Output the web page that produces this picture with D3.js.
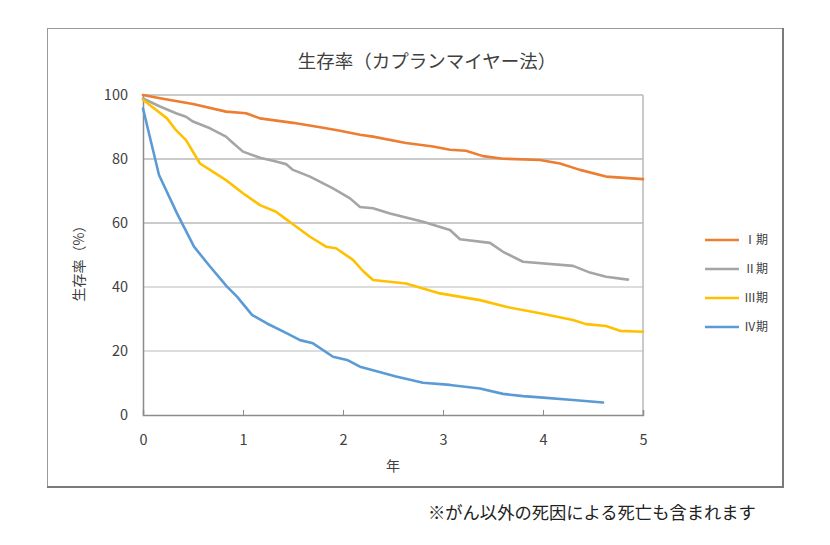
<!DOCTYPE html>
<html>
<head>
<meta charset="utf-8">
<script src="https://cdn.jsdelivr.net/npm/d3@7"></script>
<style>
  body { margin: 0; background: #fff; }
  text { font-family: "Noto Sans CJK JP", "Noto Sans", sans-serif; fill: #404040; }
</style>
</head>
<body>
<div id="chart"></div>
<script>
'use strict';

// stages
var stages = ["Ⅰ期", "Ⅱ期", "Ⅲ期", "Ⅳ期"];
var colors = ["#ED7D31", "#A5A5A5", "#FFC000", "#5B9BD5"];

// years / survival (%)
var stage1Years = [0, 0.17, 0.5, 0.83, 1.03, 1.17, 1.5, 1.83, 1.97, 2.17, 2.3, 2.63, 2.9, 3.07, 3.23, 3.4, 3.6, 3.97, 4.17, 4.37, 4.63, 5.0];
var stage1Surv  = [100, 99, 97.2, 94.8, 94.3, 92.7, 91.3, 89.6, 88.8, 87.6, 87.0, 85.0, 83.9, 82.9, 82.6, 80.9, 80.1, 79.7, 78.6, 76.6, 74.5, 73.7];

var stage2Years = [0, 0.17, 0.33, 0.43, 0.5, 0.67, 0.83, 0.9, 1.0, 1.17, 1.33, 1.43, 1.5, 1.67, 1.9, 2.07, 2.17, 2.3, 2.47, 2.8, 3.07, 3.17, 3.47, 3.6, 3.8, 4.3, 4.47, 4.63, 4.85];
var stage2Surv  = [98.9, 96.4, 94.3, 93.2, 91.7, 89.6, 87.0, 85.0, 82.3, 80.4, 79.2, 78.4, 76.6, 74.5, 70.8, 67.7, 65.0, 64.6, 63.0, 60.4, 57.8, 54.9, 53.8, 51.0, 47.9, 46.6, 44.5, 43.2, 42.3];

var stage3Years = [0, 0.24, 0.33, 0.43, 0.57, 0.67, 0.83, 1.0, 1.17, 1.33, 1.43, 1.5, 1.67, 1.83, 1.93, 2.1, 2.2, 2.3, 2.63, 2.97, 3.37, 3.63, 3.97, 4.3, 4.43, 4.63, 4.77, 5.0];
var stage3Surv  = [98.5, 92.7, 89.0, 85.9, 78.6, 76.6, 73.4, 69.3, 65.6, 63.5, 61.2, 59.6, 55.7, 52.6, 52.1, 48.5, 45.0, 42.2, 41.1, 38.0, 35.9, 33.8, 31.8, 29.7, 28.4, 27.8, 26.3, 26.0];

var stage4Years = [0, 0.16, 0.34, 0.51, 0.67, 0.84, 0.94, 1.09, 1.24, 1.44, 1.57, 1.7, 1.9, 2.04, 2.17, 2.3, 2.53, 2.8, 3.07, 3.37, 3.6, 3.8, 3.97, 4.3, 4.6];
var stage4Surv  = [95.8, 75.0, 63.0, 52.6, 46.4, 40.1, 37.0, 31.3, 28.6, 25.5, 23.4, 22.4, 18.2, 17.2, 15.1, 14.0, 12.0, 10.1, 9.4, 8.3, 6.6, 5.9, 5.5, 4.7, 3.9];

var xTicks = [0, 1, 2, 3, 4, 5];
var yTicks = [0, 20, 40, 60, 80, 100];

var series = [
  { name: stages[0], years: stage1Years, surv: stage1Surv },
  { name: stages[1], years: stage2Years, surv: stage2Surv },
  { name: stages[2], years: stage3Years, surv: stage3Surv },
  { name: stages[3], years: stage4Years, surv: stage4Surv }
];

var W = 830, H = 545;
var plot = { left: 143, right: 643, top: 95, bottom: 415 };

var svg = d3.select("#chart").append("svg")
  .attr("width", W)
  .attr("height", H);

// chart frame
svg.append("rect")
  .attr("x", 47.5).attr("y", 28.5)
  .attr("width", 735).attr("height", 458)
  .attr("fill", "#fff")
  .attr("stroke", "#9a9a9a")
  .attr("stroke-width", 1);
// darker shadow on right/bottom edges
svg.append("path")
  .attr("d", "M783,28 L783,487 L47,487")
  .attr("fill", "none")
  .attr("stroke", "#7a7a7a")
  .attr("stroke-width", 2);

var x = d3.scaleLinear().domain([0, 5]).range([plot.left, plot.right]);
var y = d3.scaleLinear().domain([0, 100]).range([plot.bottom, plot.top]);

// grid
svg.append("g")
  .selectAll("line")
  .data(yTicks.filter(function (d) { return d > 0; }))
  .enter().append("line")
  .attr("x1", plot.left).attr("x2", plot.right)
  .attr("y1", function (d) { return y(d); })
  .attr("y2", function (d) { return y(d); })
  .attr("stroke", function (d) { return d >= 60 ? "#b8b8b8" : "#d0d0d0"; })
  .attr("stroke-width", 1.3);

// right border of plot
svg.append("line")
  .attr("x1", plot.right).attr("x2", plot.right)
  .attr("y1", plot.top).attr("y2", plot.bottom)
  .attr("stroke", "#b8b8b8").attr("stroke-width", 1.5);

// y axis
var yAxis = d3.axisLeft(y).tickValues(yTicks).tickSize(0).tickPadding(15);
var gy = svg.append("g")
  .attr("transform", "translate(" + plot.left + ",0)")
  .call(yAxis);
gy.select(".domain").attr("stroke", "#8c8c8c").attr("stroke-width", 1.5);
gy.selectAll("text").style("font-size", "14.5px").attr("fill", "#404040");

// x axis
var xAxis = d3.axisBottom(x).tickValues(xTicks).tickSize(-5).tickPadding(20).tickFormat(d3.format("d"));
var gx = svg.append("g")
  .attr("transform", "translate(0," + plot.bottom + ")")
  .call(xAxis);
gx.select(".domain").attr("stroke", "#8c8c8c").attr("stroke-width", 1.5);
gx.selectAll(".tick line").attr("stroke", "#8c8c8c");
gx.selectAll("text").style("font-size", "14.5px").attr("fill", "#404040");

// lines
var line = d3.line()
  .x(function (d) { return x(d[0]); })
  .y(function (d) { return y(d[1]); });

svg.append("g")
  .selectAll("path")
  .data(series)
  .enter().append("path")
  .attr("d", function (s) { return line(d3.zip(s.years, s.surv)); })
  .attr("fill", "none")
  .attr("stroke", function (s, i) { return colors[i]; })
  .attr("stroke-width", 2.6)
  .attr("stroke-linejoin", "round")
  .attr("stroke-linecap", "round");

// title
svg.append("text")
  .attr("x", 427).attr("y", 68)
  .attr("text-anchor", "middle")
  .style("font-size", "18.5px")
  .text("生存率（カプランマイヤー法）");

// axis titles
svg.append("text")
  .attr("transform", "translate(84,260) rotate(-90)")
  .attr("text-anchor", "middle")
  .style("font-size", "14px")
  .text("生存率（%）");

svg.append("text")
  .attr("x", 393).attr("y", 471)
  .attr("text-anchor", "middle")
  .style("font-size", "14px")
  .text("年");

// legend
var legend = svg.append("g")
  .selectAll("g")
  .data(stages)
  .enter().append("g")
  .attr("transform", function (d, i) { return "translate(705," + (240 + i * 29) + ")"; });
legend.append("line")
  .attr("x1", 0).attr("x2", 34)
  .attr("stroke", function (d, i) { return colors[i]; })
  .attr("stroke-width", 2.6);
legend.append("text")
  .attr("x", 39).attr("y", 4)
  .style("font-size", "12px")
  .text(function (d) { return d; });

// footnote
svg.append("text")
  .attr("x", 428).attr("y", 519)
  .style("font-size", "17.3px")
  .style("fill", "#222")
  .text("※がん以外の死因による死亡も含まれます");
</script>
</body>
</html>
